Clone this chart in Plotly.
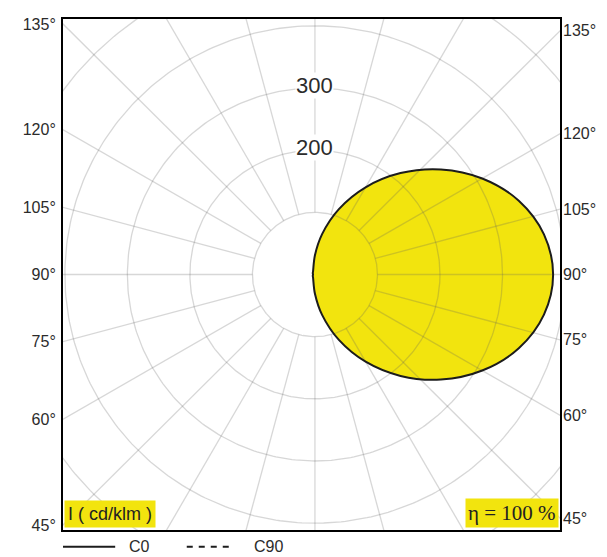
import numpy as np
import plotly.graph_objects as go

# ---- data (cd/klm) ----
gamma_deg = [0, 10, 20, 30, 40, 50, 60, 70, 80, 90, 100, 110, 120, 130, 140, 150, 160, 170, 180]
c0_cd = [31, 66, 112, 162, 213, 263, 309, 347, 372, 381, 372, 347, 309, 263, 213, 162, 112, 66, 31]
c180_gamma = [180, 150, 120, 90, 60, 30, 0]
c180_cd = [31, 6, 4, 3, 4, 6, 31]

ring_values = [100, 200, 300, 400, 500]
ring_labels = ["200", "300"]
spoke_step = 15
angle_ticks = [45, 60, 75, 90, 105, 120, 135]
angle_text = ["45°", "60°", "75°", "90°", "105°", "120°", "135°"]
legend_names = ["C0", "C90"]

# ---- geometry of the frame (cd units) ----
X_LEFT, X_RIGHT = -403, 392
Y_HALF = 411

YELLOW = "#F2E40E"
GRID = "rgba(95,95,95,0.25)"
TXT = "#2b2b2b"
LINE = "#1c1c1c"

g = np.radians(gamma_deg)
xr = np.array(c0_cd) * np.sin(g)
yr = -np.array(c0_cd) * np.cos(g)
gl = np.radians(c180_gamma)
xl = -np.array(c180_cd) * np.sin(gl)
yl = -np.array(c180_cd) * np.cos(gl)
cx = np.concatenate([xr, xl[1:]])
cy = np.concatenate([yr, yl[1:]])

# grid geometry
gx, gy = [], []
t = np.linspace(0, 2 * np.pi, 361)
for r in ring_values:
    gx += list(r * np.cos(t)) + [None]
    gy += list(r * np.sin(t)) + [None]
for a in range(0, 360, spoke_step):
    ar = np.radians(a)
    gx += [100 * np.sin(ar), 800 * np.sin(ar), None]
    gy += [-100 * np.cos(ar), -800 * np.cos(ar), None]

fig = go.Figure()
fig.add_trace(go.Scatter(x=cx, y=cy, mode="lines", fill="toself", fillcolor=YELLOW,
                         line=dict(width=0, shape="spline", smoothing=1.0),
                         showlegend=False, hoverinfo="skip"))
fig.add_trace(go.Scatter(x=gx, y=gy, mode="lines", line=dict(color=GRID, width=1.3),
                         showlegend=False, hoverinfo="skip"))
fig.add_trace(go.Scatter(x=cx, y=cy, mode="lines", name="C0", showlegend=False,
                         line=dict(color=LINE, width=2, shape="spline", smoothing=1.0)))
fig.add_trace(go.Scatter(x=[None], y=[None], yaxis="y2", showlegend=False, hoverinfo="skip"))

cot = lambda a: np.cos(np.radians(a)) / np.sin(np.radians(a))
left_vals = [X_LEFT * cot(a) for a in angle_ticks]
right_vals = [-X_RIGHT * cot(a) for a in angle_ticks]

for v in ring_labels:
    fig.add_annotation(x=0, y=int(v), text=v, showarrow=False, bgcolor="white", yshift=3,
                       font=dict(family="Liberation Sans, Arial", size=22, color=TXT), borderpad=0)

fig.add_annotation(xref="paper", yref="paper", x=0.002, y=0.003, xanchor="left", yanchor="bottom",
                   text="I ( cd/klm )", showarrow=False, bgcolor=YELLOW, borderpad=3,
                   font=dict(family="Liberation Sans, Arial", size=18, color="#222"))
fig.add_annotation(xref="paper", yref="paper", x=0.998, y=0.003, xanchor="right", yanchor="bottom",
                   text="η = 100 %", showarrow=False, bgcolor=YELLOW, borderpad=2,
                   font=dict(family="Liberation Serif, Times New Roman", size=21, color="#222"))

# legend key below the frame
LEG_Y = -0.033
fig.add_shape(type="line", xref="paper", yref="paper", x0=0.0, x1=0.105, y0=LEG_Y, y1=LEG_Y,
              line=dict(color=LINE, width=2))
fig.add_shape(type="line", xref="paper", yref="paper", x0=0.249, x1=0.34, y0=LEG_Y, y1=LEG_Y,
              line=dict(color=LINE, width=2, dash="6px,6px"))
fig.add_annotation(xref="paper", yref="paper", x=0.129, y=LEG_Y, xanchor="left", yanchor="middle",
                   text=legend_names[0], showarrow=False, font=dict(size=16, color=TXT))
fig.add_annotation(xref="paper", yref="paper", x=0.38, y=LEG_Y, xanchor="left", yanchor="middle",
                   text=legend_names[1], showarrow=False, font=dict(size=16, color=TXT))

# the page body adds an 8 px offset, so the figure is sized to fill the rest of the window
fig.update_layout(
    width=599, height=549,
    margin=dict(l=55, r=47, t=8, b=27),
    paper_bgcolor="white", plot_bgcolor="white",
    showlegend=False,
    font=dict(family="Liberation Sans, Arial", color=TXT),
    xaxis=dict(range=[X_LEFT, X_RIGHT], showgrid=False, zeroline=False, showticklabels=False,
               showline=True, mirror=True, linecolor="black", linewidth=2, fixedrange=True),
    yaxis=dict(range=[-Y_HALF, Y_HALF], showgrid=False, zeroline=False,
               tickvals=left_vals, ticktext=angle_text, tickfont=dict(size=16, color=TXT),
               ticks="", ticklabelstandoff=2,
               showline=True, mirror=True, linecolor="black", linewidth=2, fixedrange=True),
    yaxis2=dict(range=[-Y_HALF, Y_HALF], overlaying="y", side="right", showgrid=False,
                zeroline=False, tickvals=right_vals, ticktext=angle_text,
                tickfont=dict(size=16, color=TXT), ticks="", ticklabelstandoff=2,
                showline=False, fixedrange=True),
)

fig.write_html("out.html")
